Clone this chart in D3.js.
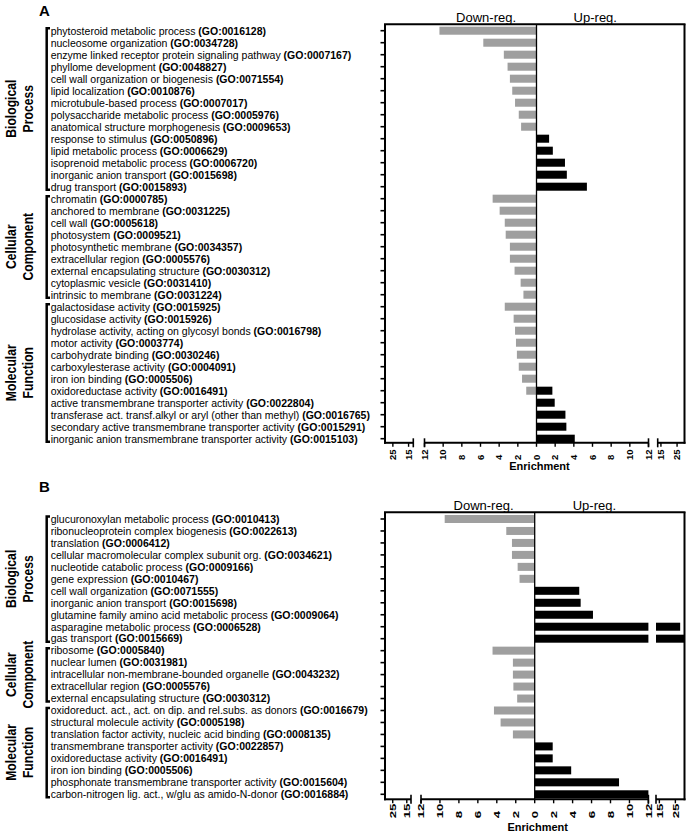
<!DOCTYPE html>
<html><head><meta charset="utf-8">
<script src="https://cdn.jsdelivr.net/npm/d3@7"></script>
<style>body{margin:0;background:#fff} svg{display:block} text{font-family:Arial,"Liberation Sans",sans-serif;fill:#000}</style>
</head><body><svg id="c" width="689" height="834"></svg>
<script>
// ---------- DATA ----------
const groupNames = [["Biological","Process"],["Cellular","Component"],["Molecular","Function"]];

const termsA = ["phytosteroid metabolic process","nucleosome organization","enzyme linked receptor protein signaling pathway","phyllome development","cell wall organization or biogenesis","lipid localization","microtubule-based process","polysaccharide metabolic process","anatomical structure morphogenesis","response to stimulus","lipid metabolic process","isoprenoid metabolic process","inorganic anion transport","drug transport",
"chromatin","anchored to membrane","cell wall","photosystem","photosynthetic membrane","extracellular region","external encapsulating structure","cytoplasmic vesicle","intrinsic to membrane",
"galactosidase activity","glucosidase activity","hydrolase activity, acting on glycosyl bonds","motor activity","carbohydrate binding","carboxylesterase activity","iron ion binding","oxidoreductase activity","active transmembrane transporter activity","transferase act. transf.alkyl or aryl (other than methyl)","secondary active transmembrane transporter activity","inorganic anion transmembrane transporter activity"];
const goA = ["GO:0016128","GO:0034728","GO:0007167","GO:0048827","GO:0071554","GO:0010876","GO:0007017","GO:0005976","GO:0009653","GO:0050896","GO:0006629","GO:0006720","GO:0015698","GO:0015893",
"GO:0000785","GO:0031225","GO:0005618","GO:0009521","GO:0034357","GO:0005576","GO:0030312","GO:0031410","GO:0031224",
"GO:0015925","GO:0015926","GO:0016798","GO:0003774","GO:0030246","GO:0004091","GO:0005506","GO:0016491","GO:0022804","GO:0016765","GO:0015291","GO:0015103"];
const groupSizesA = [14, 9, 12];
const downA = [10.4,5.7,3.5,3.1,2.85,2.6,2.3,1.9,1.65,0,0,0,0,0,
4.7,3.95,3.4,3.3,2.85,2.85,2.35,1.7,1.4,
3.4,2.45,2.3,2.2,2.1,1.9,1.55,1.1,0,0,0,0];
const upA = [0,0,0,0,0,0,0,0,0,1.35,1.75,3.05,3.25,5.4,
0,0,0,0,0,0,0,0,0,
0,0,0,0,0,0,0,1.7,1.95,3.1,3.2,4.1];

const termsB = ["glucuronoxylan metabolic process","ribonucleoprotein complex biogenesis","translation","cellular macromolecular complex subunit org.","nucleotide catabolic process","gene expression","cell wall organization","inorganic anion transport","glutamine family amino acid metabolic process","asparagine metabolic process","gas transport",
"ribosome","nuclear lumen","intracellular non-membrane-bounded organelle","extracellular region","external encapsulating structure",
"oxidoreduct. act., act. on dip. and rel.subs. as donors","structural molecule activity","translation factor activity, nucleic acid binding","transmembrane transporter activity","oxidoreductase activity","iron ion binding","phosphonate transmembrane transporter activity","carbon-nitrogen lig. act., w/glu as amido-N-donor"];
const goB = ["GO:0010413","GO:0022613","GO:0006412","GO:0034621","GO:0009166","GO:0010467","GO:0071555","GO:0015698","GO:0009064","GO:0006528","GO:0015669",
"GO:0005840","GO:0031981","GO:0043232","GO:0005576","GO:0030312",
"GO:0016679","GO:0005198","GO:0008135","GO:0022857","GO:0016491","GO:0005506","GO:0015604","GO:0016884"];
const groupSizesB = [11, 5, 8];
const downB = [9.5,3.0,2.4,2.4,1.8,1.6,0,0,0,0,0,
4.45,2.3,2.3,2.25,1.85,
4.3,3.6,2.3,0,0,0,0,0];
const upB = [0,0,0,0,0,0,4.7,4.85,6.15,28,31,
0,0,0,0,0,
0,0,0,1.9,1.9,3.85,8.9,12];

const ticksMid = [-12,-10,-8,-6,-4,-2,0,2,4,6,8,10,12];
const ticksOuter = [15,25];
const headerLabels = ["Down-reg.","Up-reg."];
const axisTitle = "Enrichment";

// ---------- DRAW ----------
const svg = d3.select("#c");
const GRAY = "#9f9f9f";

function drawPanel(p){
  const g = svg.append("g");
  const n = p.terms.length;
  const y = d3.scaleBand().domain(d3.range(n))
     .range([p.rowTop, p.rowTop + n*p.step]).paddingInner(0.33).paddingOuter(0.165);
  const cy = i => y(i) + y.bandwidth()/2;
  const xMid = d3.scaleLinear().domain([-12,12]).range([p.midL, p.midR]);
  const xLo = d3.scaleLinear().domain(p.loDomain).range([p.boxL, p.loEnd]).clamp(true);
  const xHi = d3.scaleLinear().domain(p.hiDomain).range([p.hiStart, p.boxR]).clamp(true);

  g.append("text").attr("x", 39).attr("y", p.letterY).attr("font-size", 15).attr("font-weight","bold").text(p.letter);

  g.append("text").attr("x", xMid(-5.4)).attr("y", p.boxTop-2.5).attr("text-anchor","middle").attr("font-size",13).text(headerLabels[0]);
  g.append("text").attr("x", xMid(6.3)).attr("y", p.boxTop-2.5).attr("text-anchor","middle").attr("font-size",13).text(headerLabels[1]);

  p.down.forEach((d,i)=>{
    if(d<=0) return;
    const m = Math.min(d,12);
    g.append("rect").attr("x", xMid(-m)).attr("width", xMid(0)-xMid(-m)).attr("y", y(i)).attr("height", y.bandwidth()).attr("fill", GRAY);
    if(d>12){ g.append("rect").attr("x", xLo(d)).attr("width", p.loEnd - xLo(d)).attr("y", y(i)).attr("height", y.bandwidth()).attr("fill", GRAY); }
  });
  p.up.forEach((u,i)=>{
    if(u<=0) return;
    const m = Math.min(u,12);
    g.append("rect").attr("x", xMid(0)).attr("width", xMid(m)-xMid(0)).attr("y", y(i)).attr("height", y.bandwidth()).attr("fill", "#000");
    if(u>12){ g.append("rect").attr("x", p.hiStart).attr("width", xHi(u)-p.hiStart).attr("y", y(i)).attr("height", y.bandwidth()).attr("fill", "#000"); }
  });

  g.append("line").attr("x1", xMid(0)).attr("x2", xMid(0)).attr("y1", p.boxTop).attr("y2", p.axisY).attr("stroke","#000").attr("stroke-width",1.3);

  const ln = (x1,y1,x2,y2,w)=>g.append("line").attr("x1",x1).attr("y1",y1).attr("x2",x2).attr("y2",y2).attr("stroke","#000").attr("stroke-width",w);
  ln(p.boxL-1, p.boxTop, p.boxR+1, p.boxTop, 2);
  ln(p.boxL, p.boxTop, p.boxL, p.axisY+1, 2);
  ln(p.boxR, p.boxTop, p.boxR, p.axisY+1, 2);

  d3.range(n).forEach(i=> ln(p.boxL-4.5, cy(i), p.boxL, cy(i), 1.6));

  ln(p.boxL-1, p.axisY, p.loEnd, p.axisY, 2);
  ln(p.midL, p.axisY, p.midR, p.axisY, 2);
  ln(p.hiStart, p.axisY, p.boxR+1, p.axisY, 2);
  [p.loEnd, p.midL, p.midR, p.hiStart].forEach(x=> ln(x, p.axisY-4.5, x, p.axisY+4.5, 1.6));

  const tickLabel = (x, v)=>{
    ln(x, p.axisY, x, p.axisY+4, 1.4);
    g.append("text").attr("transform", `translate(${x},${p.tickBottom}) rotate(-90) scale(${p.tickStretch},1)`)
      .attr("dy","0.35em").attr("text-anchor","start").attr("font-size",9.5).attr("font-weight","bold").text(Math.abs(v));
  };
  ticksOuter.slice().reverse().forEach(v=> tickLabel(xLo(v), v));
  ticksMid.forEach(v=> tickLabel(xMid(v), v));
  ticksOuter.forEach(v=> tickLabel(xHi(v), v));

  g.append("text").attr("x", xMid(0)+3).attr("y", p.titleY).attr("text-anchor","middle").attr("font-size",11).attr("font-weight","bold").text(axisTitle);

  p.terms.forEach((t,i)=>{
    const tx = g.append("text").attr("x", 50.7).attr("y", cy(i)+3.8).attr("font-size",10.5);
    tx.append("tspan").text(t + " ");
    tx.append("tspan").attr("font-weight","bold").text("(" + p.go[i] + ")");
  });

  let start = 0;
  p.groups.forEach((sz,k)=>{
    const y0 = cy(start) - 2.5, y1 = cy(start+sz-1) + 3;
    g.append("path").attr("d", `M50,${y0} H46.7 V${y1} H50`).attr("fill","none").attr("stroke","#000").attr("stroke-width",2.5);
    const c = (cy(start) + cy(start+sz-1))/2;
    [16, 32.5].forEach((x,j)=>{
      g.append("text").attr("transform", `translate(${x},${c}) rotate(-90) scale(1,1.15)`).attr("text-anchor","middle")
        .attr("font-size",12.2).attr("font-weight","bold").text(groupNames[k][j]);
    });
    start += sz;
  });
}

drawPanel({letter:"A", letterY:15.5, terms:termsA, go:goA, groups:groupSizesA, down:downA, up:upA,
  rowTop:24.7, step:12, boxTop:24.3, axisY:442.8, boxL:385, boxR:684.5,
  midL:424.5, midR:648.5, loEnd:413.3, hiStart:657.7, loDomain:[30,12], hiDomain:[13,29.6],
  tickBottom:460, tickStretch:1, titleY:469.5});

drawPanel({letter:"B", letterY:491.7, terms:termsB, go:goB, groups:groupSizesB, down:downB, up:upB,
  rowTop:513, step:11.97, boxTop:512.3, axisY:799.3, boxL:385, boxR:684.5,
  midL:421, midR:648.4, loEnd:411, hiStart:656, loDomain:[30.5,12], hiDomain:[12.9,30.7],
  tickBottom:818.3, tickStretch:1.4, titleY:830.7});
</script></body></html>
